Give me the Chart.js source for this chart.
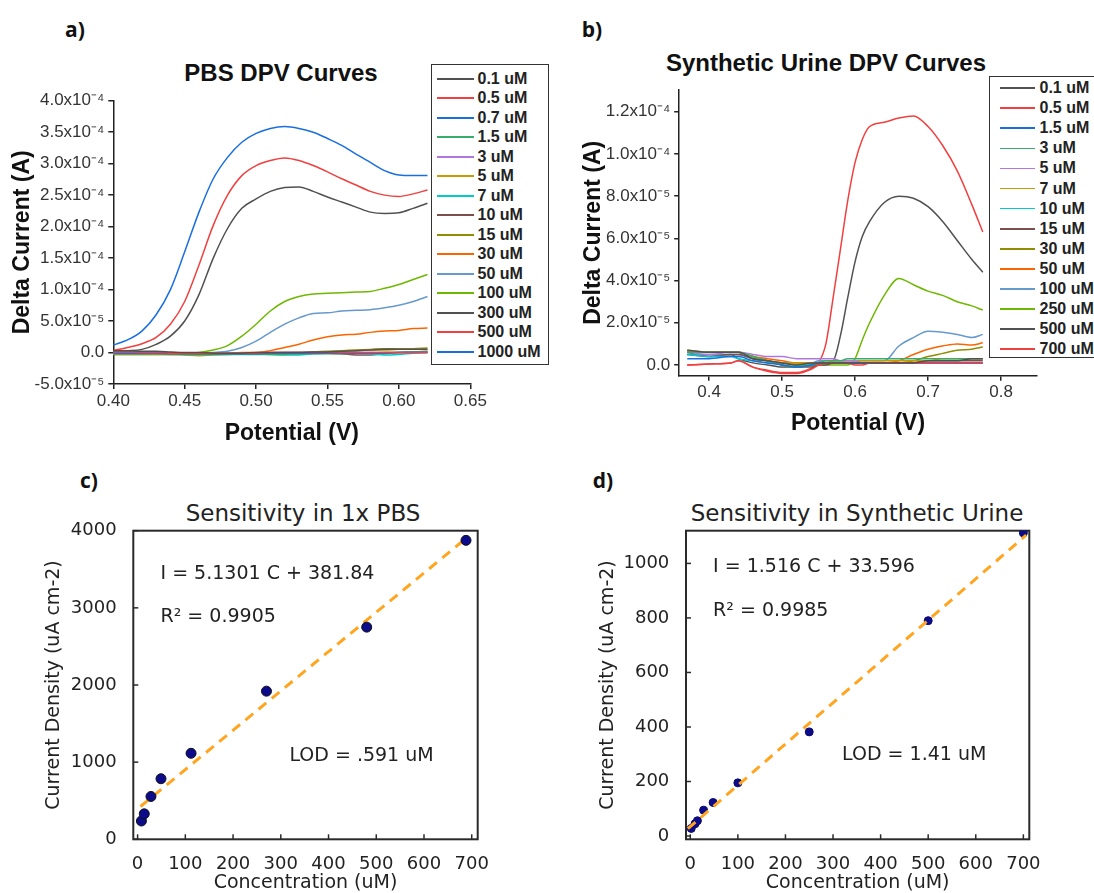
<!DOCTYPE html>
<html lang="en">
<head>
  <meta charset="UTF-8">
  <title>DPV curves and sensitivity</title>
  <script src="https://cdn.jsdelivr.net/npm/chart.js"></script>
  <style>
    body {
      margin: 0;
      width: 1094px;
      height: 893px;
      overflow: hidden;
      background: #fff;
      position: relative;
      font-family: 'Liberation Sans', Arial, sans-serif;
    }
    canvas { position: absolute; }
    .tag {
      position: absolute;
      transform: translate(-50%, -50%);
      font: bold 21px 'Open Sans', sans-serif;
      color: #111;
    }
    .ttl {
      position: absolute;
      transform: translate(-50%, -50%);
      white-space: nowrap;
      line-height: 1;
    }
    .ttl.origin { font: bold 24px 'Liberation Sans', Arial, sans-serif; color: #111; }
    .ttl.mpl { font: 23px 'DejaVu Sans', sans-serif; color: #222; }
    .legend {
      position: absolute;
      background: #fff;
      border: 1.5px solid #333;
      box-sizing: border-box;
      font-weight: bold;
      color: #222;
      white-space: nowrap;
    }
    .legend .row { display: flex; align-items: center; }
    .legend .sw { display: inline-block; height: 1.6px; }
  </style>
</head>
<body>
  <div class="tag" style="left:75px; top:29px;">a)</div>
  <div class="tag" style="left:592px; top:29px;">b)</div>
  <div class="tag" style="left:89px; top:480px;">c)</div>
  <div class="tag" style="left:603px; top:480px;">d)</div>

  <div class="ttl origin" style="left:281px; top:73px;">PBS DPV Curves</div>
  <div class="ttl origin" style="left:826px; top:63px;">Synthetic Urine DPV Curves</div>
  <div class="ttl mpl" style="left:303px; top:513px;">Sensitivity in 1x PBS</div>
  <div class="ttl mpl" style="left:857px; top:513px;">Sensitivity in Synthetic Urine</div>

  <canvas id="chartA" width="560" height="420" style="left:0; top:40px;"></canvas>
  <canvas id="chartB" width="534" height="420" style="left:560px; top:40px;"></canvas>
  <canvas id="chartC" width="560" height="440" style="left:0; top:460px;"></canvas>
  <canvas id="chartD" width="534" height="440" style="left:560px; top:460px;"></canvas>

  <div id="legendA" class="legend" style="left:431px; top:64px; width:118px; height:301px; padding-top:4px; font-size:16px;"></div>
  <div id="legendB" class="legend" style="left:989px; top:76px; width:130px; height:282px; padding-top:1px; font-size:16px;"></div>

  <script>
    // ---- a) PBS DPV curves (current in units of 1e-5 A) ----
    const potA = [0.40, 0.41, 0.42, 0.43, 0.44, 0.45, 0.46, 0.47, 0.48, 0.49, 0.50, 0.51,
                  0.52, 0.53, 0.54, 0.55, 0.56, 0.57, 0.58, 0.59, 0.60, 0.61, 0.62];
    const labelsA = ['0.1 uM', '0.5 uM', '0.7 uM', '1.5 uM', '3 uM', '5 uM', '7 uM', '10 uM',
                     '15 uM', '30 uM', '50 uM', '100 uM', '300 uM', '500 uM', '1000 uM'];
    const aU01   = [0.3, 0.3, 0.2, 0.2, 0.1, 0.0, 0.0, -0.1, -0.1, -0.1, 0.0, 0.0, 0.0, 0.0, 0.1, 0.1, 0.2, 0.3, 0.4, 0.5, 0.5, 0.5, 0.5];
    const aU05   = [0.1, 0.1, 0.0, 0.0, -0.1, -0.1, -0.1, -0.1, -0.1, -0.1, -0.1, 0.0, 0.0, 0.0, 0.0, 0.0, 0.0, 0.0, 0.0, 0.0, 0.0, 0.0, 0.0];
    const aU07   = [-0.1, -0.1, -0.1, -0.1, -0.2, -0.2, -0.2, -0.2, -0.2, -0.2, -0.2, -0.1, -0.1, -0.1, -0.1, -0.1, -0.1, -0.1, -0.1, -0.1, 0.0, 0.0, 0.0];
    const aU15   = [-0.1, -0.1, -0.2, -0.2, -0.2, -0.3, -0.3, -0.3, -0.3, -0.3, -0.3, -0.3, -0.3, -0.2, -0.2, -0.2, -0.2, -0.1, -0.1, 0.0, 0.0, 0.1, 0.1];
    const aU3    = [0.0, 0.0, 0.0, 0.0, 0.0, -0.1, -0.1, -0.1, -0.1, -0.1, -0.1, 0.0, 0.0, 0.0, 0.0, 0.0, 0.0, 0.0, 0.0, 0.0, 0.0, 0.0, 0.0];
    const aU5    = [0.0, 0.0, -0.1, -0.2, -0.3, -0.4, -0.5, -0.4, -0.3, -0.2, -0.2, -0.1, -0.1, 0.0, 0.0, 0.1, 0.2, 0.3, 0.4, 0.4, 0.5, 0.5, 0.5];
    const aU7    = [-0.2, -0.2, -0.2, -0.2, -0.2, -0.2, -0.2, -0.2, -0.2, -0.2, -0.2, -0.3, -0.4, -0.4, -0.2, -0.1, -0.1, -0.1, -0.2, -0.4, -0.3, -0.1, 0.0];
    const aU10   = [0.1, 0.1, 0.0, -0.1, -0.1, -0.2, -0.2, -0.2, -0.2, -0.2, -0.2, -0.2, -0.2, -0.2, -0.1, -0.1, -0.2, -0.4, -0.4, -0.2, 0.0, 0.1, 0.2];
    const aU15b  = [-0.2, -0.2, -0.2, -0.2, -0.2, -0.2, -0.2, -0.2, -0.2, -0.2, -0.1, -0.1, 0.0, 0.0, 0.1, 0.2, 0.3, 0.4, 0.5, 0.6, 0.6, 0.6, 0.7];
    const aU30   = [-0.3, -0.3, -0.3, -0.3, -0.3, -0.3, -0.3, -0.2, -0.1, 0.0, 0.0, 0.3, 0.8, 1.3, 2.0, 2.5, 2.8, 2.9, 3.2, 3.4, 3.5, 3.8, 3.9];
    const aU50   = [-0.2, -0.2, -0.2, -0.2, -0.2, -0.2, -0.1, 0.0, 0.2, 0.8, 1.8, 3.2, 4.5, 5.5, 6.2, 6.3, 6.6, 6.7, 6.8, 7.1, 7.5, 8.1, 8.9];
    const aU100  = [-0.3, -0.3, -0.3, -0.3, -0.3, -0.2, 0.0, 0.4, 1.1, 2.6, 4.5, 6.6, 8.1, 8.9, 9.3, 9.4, 9.5, 9.6, 9.7, 10.2, 10.8, 11.6, 12.4];
    const aU300  = [0.2, 0.3, 0.5, 1.3, 2.6, 5.0, 9.2, 15.0, 19.7, 22.9, 24.4, 25.6, 26.2, 26.3, 25.6, 24.7, 23.9, 23.1, 22.3, 22.1, 22.2, 22.9, 23.7];
    const aU500  = [0.3, 0.8, 1.4, 2.4, 4.5, 8.1, 13.9, 20.2, 25.0, 28.1, 29.7, 30.5, 30.9, 30.5, 29.7, 28.7, 27.6, 26.6, 25.6, 25.0, 24.8, 25.2, 25.8];
    const aU1000 = [1.2, 2.0, 3.4, 6.0, 10.0, 16.0, 22.3, 27.6, 31.0, 33.4, 34.8, 35.6, 35.9, 35.6, 35.0, 34.0, 32.9, 31.5, 30.2, 28.9, 28.2, 28.1, 28.1];
    const seriesA = [aU01, aU05, aU07, aU15, aU3, aU5, aU7, aU10, aU15b, aU30, aU50, aU100, aU300, aU500, aU1000];
    const xTicksA = [0.40, 0.45, 0.50, 0.55, 0.60, 0.65];
    const xLabelsA = ['0.40', '0.45', '0.50', '0.55', '0.60', '0.65'];
    const yTicksA = [-5, 0, 5, 10, 15, 20, 25, 30, 35, 40];
    const yLabelsA = ['-5.0x10⁻⁵', '0.0', '5.0x10⁻⁵', '1.0x10⁻⁴', '1.5x10⁻⁴', '2.0x10⁻⁴',
                      '2.5x10⁻⁴', '3.0x10⁻⁴', '3.5x10⁻⁴', '4.0x10⁻⁴'];

    // ---- b) Synthetic urine DPV curves (units of 1e-5 A) ----
    const potB = [0.37, 0.40, 0.43, 0.44, 0.46, 0.48, 0.50, 0.52, 0.54, 0.55, 0.56, 0.57, 0.58,
                  0.59, 0.60, 0.61, 0.62, 0.64, 0.66, 0.68, 0.70, 0.72, 0.74, 0.76, 0.775];
    const labelsB = ['0.1 uM', '0.5 uM', '1.5 uM', '3 uM', '5 uM', '7 uM', '10 uM', '15 uM',
                     '30 uM', '50 uM', '100 uM', '250 uM', '500 uM', '700 uM'];
    const bU01  = [0.7, 0.6, 0.6, 0.6, 0.3, 0.2, 0.1, 0.0, 0.1, 0.1, 0.1, 0.1, 0.1, 0.1, 0.1, 0.1, 0.1, 0.1, 0.1, 0.1, 0.2, 0.2, 0.2, 0.3, 0.3];
    const bU05  = [0.0, 0.05, 0.1, 0.2, -0.1, -0.3, -0.4, -0.4, -0.2, 0.0, 0.1, 0.1, 0.1, 0.1, 0.0, 0.0, 0.1, 0.1, 0.1, 0.1, 0.1, 0.1, 0.1, 0.1, 0.1];
    const bU15  = [0.3, 0.3, 0.4, 0.4, 0.2, 0.1, 0.0, -0.1, 0.0, 0.1, 0.1, 0.1, 0.1, 0.1, 0.1, 0.1, 0.1, 0.1, 0.1, 0.1, 0.1, 0.1, 0.1, 0.1, 0.1];
    const bU3   = [0.6, 0.6, 0.6, 0.6, 0.4, 0.2, 0.0, -0.1, 0.0, 0.1, 0.2, 0.2, 0.2, 0.3, 0.3, 0.3, 0.3, 0.3, 0.3, 0.3, 0.3, 0.3, 0.3, 0.3, 0.3];
    const bU5   = [0.6, 0.5, 0.6, 0.6, 0.5, 0.4, 0.4, 0.3, 0.3, 0.3, 0.3, 0.3, 0.2, 0.2, 0.2, 0.1, 0.1, 0.1, 0.1, 0.1, 0.1, 0.1, 0.1, 0.1, 0.1];
    const bU7   = [0.7, 0.6, 0.6, 0.6, 0.4, 0.2, 0.1, 0.1, 0.1, 0.1, 0.1, 0.2, 0.2, 0.2, 0.2, 0.2, 0.2, 0.2, 0.2, 0.2, 0.2, 0.3, 0.3, 0.3, 0.3];
    const bU10  = [0.5, 0.4, 0.4, 0.3, 0.2, 0.1, 0.1, 0.0, 0.0, 0.1, 0.1, 0.1, 0.1, 0.1, 0.1, 0.1, 0.1, 0.1, 0.1, 0.1, 0.1, 0.1, 0.1, 0.1, 0.1];
    const bU15b = [0.5, 0.4, 0.5, 0.5, 0.3, 0.2, 0.0, -0.1, -0.1, 0.0, 0.0, 0.1, 0.1, 0.1, 0.1, 0.1, 0.1, 0.1, 0.1, 0.1, 0.2, 0.2, 0.2, 0.2, 0.2];
    const bU30  = [0.6, 0.6, 0.6, 0.6, 0.4, 0.2, 0.1, 0.0, 0.0, 0.1, 0.1, 0.1, 0.1, 0.1, 0.1, 0.1, 0.1, 0.1, 0.1, 0.2, 0.4, 0.55, 0.7, 0.75, 0.85];
    const bU50  = [0.6, 0.6, 0.6, 0.6, 0.4, 0.3, 0.2, 0.1, 0.1, 0.1, 0.1, 0.1, 0.1, 0.1, 0.1, 0.1, 0.1, 0.1, 0.2, 0.5, 0.75, 0.9, 1.0, 0.95, 1.05];
    const bU100 = [0.5, 0.5, 0.5, 0.5, 0.3, 0.2, 0.1, 0.1, 0.1, 0.2, 0.2, 0.2, 0.2, 0.2, 0.2, 0.2, 0.2, 0.2, 0.9, 1.3, 1.6, 1.55, 1.45, 1.3, 1.45];
    const bU250 = [0.6, 0.6, 0.6, 0.6, 0.4, 0.2, 0.0, -0.1, 0.0, 0.0, 0.0, 0.0, 0.0, 0.0, 0.3, 1.2, 2.0, 3.3, 4.1, 3.8, 3.5, 3.3, 3.0, 2.8, 2.6];
    const bU500 = [0.6, 0.4, 0.5, 0.3, 0.1, 0.0, -0.1, -0.1, 0.0, 0.1, 0.1, 0.2, 1.4, 3.2, 4.9, 6.1, 6.8, 7.7, 8.0, 7.9, 7.5, 6.8, 5.9, 5.0, 4.4];
    const bU700 = [0.0, 0.05, 0.1, 0.2, -0.1, -0.25, -0.35, -0.35, -0.15, 0.1, 1.0, 3.2, 5.5, 7.8, 9.6, 10.7, 11.3, 11.5, 11.7, 11.8, 11.3, 10.4, 9.2, 7.6, 6.3];
    const seriesB = [bU01, bU05, bU15, bU3, bU5, bU7, bU10, bU15b, bU30, bU50, bU100, bU250, bU500, bU700];
    const xTicksB = [0.4, 0.5, 0.6, 0.7, 0.8];
    const xLabelsB = ['0.4', '0.5', '0.6', '0.7', '0.8'];
    const yTicksB = [0, 2, 4, 6, 8, 10, 12];
    const yLabelsB = ['0.0', '2.0x10⁻⁵', '4.0x10⁻⁵', '6.0x10⁻⁵', '8.0x10⁻⁵', '1.0x10⁻⁴', '1.2x10⁻⁴'];

    // ---- c) sensitivity in 1x PBS ----
    const concC = [8, 14, 28, 49, 112, 270, 480, 688];
    const densC = [237, 330, 555, 785, 1115, 1920, 2750, 3875];
    const fitXC = [6, 682];
    const fitYC = [425, 3870];
    const yTicksC = [0, 1000, 2000, 3000, 4000];

    // ---- d) sensitivity in synthetic urine ----
    const concD = [2, 10, 15, 28, 48, 100, 250, 500, 700];
    const densD = [28, 45, 56, 95, 123, 195, 382, 790, 1112];
    const fitXD = [-5, 706];
    const fitYD = [27, 1104];
    const yTicksD = [0, 200, 400, 600, 800, 1000];

    const xTicksCD = [0, 100, 200, 300, 400, 500, 600, 700];

    // Origin default colour increment list
    const originColors = ['#515151', '#F14040', '#1A6FDF', '#37AD6B', '#B177DE', '#CC9900',
                          '#00CBCC', '#7D4E4E', '#8E8E00', '#FB6501', '#6699CC', '#6FB802'];

    Chart.defaults.animation = false;
    Chart.defaults.plugins.legend.display = false;
    Chart.defaults.plugins.tooltip.enabled = false;

    const originFont = "'Liberation Sans', Arial, sans-serif";
    const mplFont = "'DejaVu Sans', sans-serif";

    function buildLegend(id, labels, sw) {
      const box = document.getElementById(id);
      labels.forEach((lab, i) => {
        const row = document.createElement('div');
        row.className = 'row';
        row.style.height = sw.row + 'px';
        const line = document.createElement('span');
        line.className = 'sw';
        line.style.width = sw.w + 'px';
        line.style.marginLeft = sw.left + 'px';
        line.style.marginRight = sw.gap + 'px';
        line.style.background = originColors[i % originColors.length];
        row.appendChild(line);
        row.appendChild(document.createTextNode(lab));
        box.appendChild(row);
      });
    }

    function dpvChart(id, xs, series, labels, g) {
      const datasets = series.map((vals, i) => ({
        label: labels[i],
        data: xs.map((x, j) => ({ x: x, y: vals[j] })),
        borderColor: originColors[i % originColors.length],
        borderWidth: 1.5,
        pointRadius: 0,
        cubicInterpolationMode: 'monotone',
        fill: false
      }));
      const axisCommon = {
        type: 'linear',
        border: { display: true, color: '#222', width: 1.5 },
        grid: { display: true, drawOnChartArea: false, drawTicks: true, tickLength: 5, color: '#222', lineWidth: 1.5 }
      };
      return new Chart(document.getElementById(id), {
        type: 'line',
        data: { datasets: datasets },
        options: {
          responsive: false,
          layout: { padding: { left: 0, top: g.top, right: g.right, bottom: 0 } },
          scales: {
            x: Object.assign({}, axisCommon, {
              min: g.xMin, max: g.xMax,
              afterBuildTicks: s => { s.ticks = g.xTicks.map(v => ({ value: v })); },
              afterFit: s => { s.height = g.xHeight; },
              ticks: {
                autoSkip: false, maxRotation: 0, padding: g.xPad,
                color: '#333', font: { family: originFont, size: 17 },
                callback: (v, i) => g.xLabels[i]
              },
              title: {
                display: true, text: 'Potential (V)', color: '#111',
                font: { family: originFont, size: 23, weight: 'bold' },
                padding: { top: 0, bottom: g.xTitlePad }
              }
            }),
            y: Object.assign({}, axisCommon, {
              min: g.yMin, max: g.yMax,
              afterBuildTicks: s => { s.ticks = g.yTicks.map(v => ({ value: v })); },
              afterFit: s => { s.width = g.yWidth; },
              ticks: {
                autoSkip: false, padding: 4,
                color: '#333', font: { family: originFont, size: 17 },
                callback: (v, i) => g.yLabels[i]
              },
              title: {
                display: true, text: 'Delta Current (A)', color: '#111',
                font: { family: originFont, size: 23, weight: 'bold' },
                padding: { top: g.yTitlePad, bottom: 0 }
              }
            })
          }
        }
      });
    }

    // frame plus inward tick marks, matplotlib style
    const framePlugin = {
      id: 'frame',
      beforeDatasetsDraw(chart) {
        const { ctx, chartArea: a, scales: { x, y } } = chart;
        ctx.save();
        ctx.strokeStyle = '#2a2a2a';
        ctx.lineWidth = 1.5;
        x.ticks.forEach(t => {
          const px = x.getPixelForValue(t.value);
          ctx.beginPath(); ctx.moveTo(px, a.bottom); ctx.lineTo(px, a.bottom - 5); ctx.stroke();
        });
        y.ticks.forEach(t => {
          const py = y.getPixelForValue(t.value);
          ctx.beginPath(); ctx.moveTo(a.left, py); ctx.lineTo(a.left + 5, py); ctx.stroke();
        });
        ctx.lineWidth = 2;
        ctx.strokeRect(a.left, a.top, a.right - a.left, a.bottom - a.top);
        ctx.restore();
      }
    };

    // text notes anchored in data coordinates
    const notesPlugin = {
      id: 'notes',
      afterDraw(chart, args, opts) {
        const { ctx, scales: { x, y } } = chart;
        ctx.save();
        ctx.font = '19px ' + mplFont;
        ctx.fillStyle = '#222';
        ctx.textBaseline = 'middle';
        opts.items.forEach(n => ctx.fillText(n.text, x.getPixelForValue(n.x), y.getPixelForValue(n.y)));
        ctx.restore();
      }
    };

    function sensChart(id, conc, dens, fitX, fitY, g) {
      return new Chart(document.getElementById(id), {
        type: 'scatter',
        data: {
          datasets: [
            {
              data: conc.map((c, i) => ({ x: c, y: dens[i] })),
              backgroundColor: '#0b0b8c',
              borderColor: g.pointEdge,
              borderWidth: 1,
              pointRadius: g.radius,
              order: g.pointOrder
            },
            {
              data: fitX.map((c, i) => ({ x: c, y: fitY[i] })),
              showLine: true,
              pointRadius: 0,
              borderColor: '#FFA520',
              borderWidth: 3,
              borderDash: [10, 7],
              order: g.lineOrder
            }
          ]
        },
        options: {
          responsive: false,
          layout: { padding: { left: 0, top: g.top, right: g.right, bottom: 0 } },
          plugins: { notes: { items: g.notes } },
          scales: {
            x: {
              type: 'linear', min: -9, max: 712.5,
              border: { display: false },
              grid: { display: false },
              afterBuildTicks: s => { s.ticks = xTicksCD.map(v => ({ value: v })); },
              afterFit: s => { s.height = 60.7; },
              ticks: {
                autoSkip: false, maxRotation: 0, padding: 6.6, color: '#222',
                font: { family: mplFont, size: 18 }, callback: v => String(v)
              },
              title: {
                display: true, text: 'Concentration (uM)', color: '#222',
                font: { family: mplFont, size: 19 }, padding: { top: 0, bottom: 5.3 }
              }
            },
            y: {
              type: 'linear', min: g.yMin, max: g.yMax,
              border: { display: false },
              grid: { display: false },
              afterBuildTicks: s => { s.ticks = g.yTicks.map(v => ({ value: v })); },
              afterFit: s => { s.width = g.yWidth; },
              ticks: {
                autoSkip: false, padding: 8.7, color: '#222',
                font: { family: mplFont, size: 18 }, callback: v => String(v)
              },
              title: {
                display: true, text: 'Current Density (uA cm-2)', color: '#222',
                font: { family: mplFont, size: 19 }, padding: { top: g.yTitlePad, bottom: 0 }
              }
            }
          }
        },
        plugins: [framePlugin, notesPlugin]
      });
    }

    buildLegend('legendA', labelsA, { row: 19.5, w: 37, left: 5, gap: 3.5 });
    buildLegend('legendB', labelsB, { row: 20.1, w: 35, left: 10, gap: 4.5 });

    dpvChart('chartA', potA, seriesA, labelsA, {
      top: 60.7, right: 89.7, xMin: 0.40, xMax: 0.65, yMin: -5, yMax: 40,
      xTicks: xTicksA, xLabels: xLabelsA, yTicks: yTicksA, yLabels: yLabelsA,
      xHeight: 76, yWidth: 113.3, xPad: 2, xTitlePad: 12.9, yTitlePad: 9
    });

    dpvChart('chartB', potB, seriesB, labelsB, {
      top: 50, right: 57.2, xMin: 0.359, xMax: 0.849, yMin: -0.507, yMax: 13.03,
      xTicks: xTicksB, xLabels: xLabelsB, yTicks: yTicksB, yLabels: yLabelsB,
      xHeight: 84.3, yWidth: 119.2, xPad: 1, xTitlePad: 22.9, yTitlePad: 20.2
    });

    sensChart('chartC', concC, densC, fitXC, fitYC, {
      top: 70.7, right: 82.3, yMin: 0, yMax: 4000, yTicks: yTicksC, yWidth: 133.3,
      yTitlePad: 43, radius: 5, pointEdge: '#111', pointOrder: 0, lineOrder: 1,
      notes: [
        { text: 'I = 5.1301 C + 381.84', x: 48, y: 3435 },
        { text: 'R² = 0.9905', x: 48, y: 2885 },
        { text: 'LOD = .591 uM', x: 318, y: 1080 }
      ]
    });

    sensChart('chartD', concD, densD, fitXD, fitYD, {
      top: 70.7, right: 64.7, yMin: -12, yMax: 1120, yTicks: yTicksD, yWidth: 126,
      yTitlePad: 36.3, radius: 4, pointEdge: '#0b0b6a', pointOrder: 1, lineOrder: 0,
      notes: [
        { text: 'I = 1.516 C + 33.596', x: 48, y: 985 },
        { text: 'R² = 0.9985', x: 48, y: 826 },
        { text: 'LOD = 1.41 uM', x: 319, y: 297 }
      ]
    });
  </script>
</body>
</html>
